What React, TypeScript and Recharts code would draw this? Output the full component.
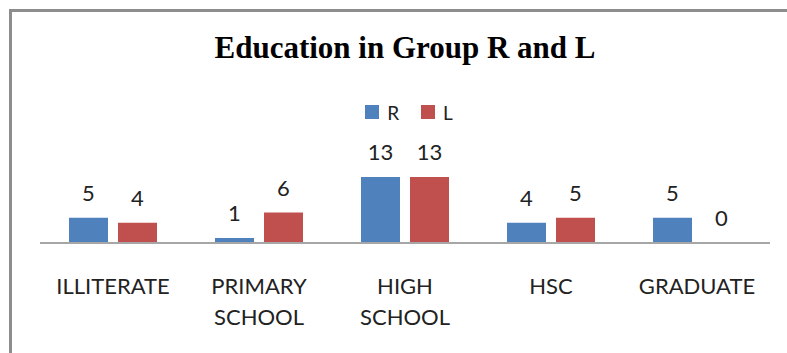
import React from "react";
import { BarChart, Bar, XAxis, YAxis, Legend, LabelList } from "recharts";

const categories = ["ILLITERATE", "PRIMARY\nSCHOOL", "HIGH\nSCHOOL", "HSC", "GRADUATE"];
const seriesR = [5, 1, 13, 4, 5];
const seriesL = [4, 6, 13, 5, 0];
const seriesNames = ["R", "L"];
const seriesColors = ["#4f81bd", "#c0504d"];

const data = categories.map((c, i) => ({ name: c, R: seriesR[i], L: seriesL[i] }));

const FONT = "Lato, 'Open Sans', sans-serif";

const Tick = (props: any) => {
  const { x, y, payload } = props;
  const lines = String(payload.value).split("\n");
  return (
    <text x={x} y={y + 43} textAnchor="middle" fontFamily={FONT} fontSize={22} fill="#222">
      {lines.map((l: string, i: number) => (
        <tspan key={i} x={x} dy={i === 0 ? 0 : 31}>
          {l}
        </tspan>
      ))}
    </text>
  );
};

const LegendContent = () => (
  <div style={{ display: "flex", justifyContent: "center", alignItems: "center", fontFamily: FONT, fontSize: 19, color: "#222", height: 24, paddingLeft: 8 }}>
    {seriesNames.map((n, i) => (
      <span key={n} style={{ display: "inline-flex", alignItems: "center", marginRight: i === 0 ? 22 : 0 }}>
        <span style={{ display: "inline-block", width: 14, height: 14, background: seriesColors[i], marginRight: 8 }} />
        {n}
      </span>
    ))}
  </div>
);

export default function App() {
  return (
    <div style={{ position: "fixed", left: 0, top: 0, width: 787, height: 353, background: "#fff", overflow: "hidden" }}>
      <div
        style={{
          position: "absolute",
          left: 9,
          top: 9,
          right: -10,
          bottom: -10,
          borderLeft: "3px solid #8d8d8d",
          borderTop: "3px solid #8d8d8d",
        }}
      />
      <div
        style={{
          position: "absolute",
          left: 40,
          width: 730,
          top: 30,
          textAlign: "center",
          fontFamily: "'Liberation Serif', 'Times New Roman', serif",
          fontWeight: "bold",
          fontSize: 31,
          lineHeight: "36px",
          color: "#000",
        }}
      >
        Education in Group R and L
      </div>
      <BarChart
        width={787}
        height={353}
        data={data}
        margin={{ top: 148, right: 17, bottom: 50, left: 40 }}
        barSize={39}
        barGap={10}
        style={{ position: "absolute", left: 0, top: 0 }}
      >
        <YAxis hide domain={[0, 14]} />
        <XAxis
          dataKey="name"
          axisLine={{ stroke: "#a6a6a6", strokeWidth: 2 }}
          tickLine={false}
          tick={<Tick />}
          interval={0}
          height={60}
        />
        <Legend verticalAlign="top" content={<LegendContent />} wrapperStyle={{ top: 100 }} />
        <Bar dataKey="R" fill={seriesColors[0]} isAnimationActive={false} minPointSize={0.01}>
          <LabelList dataKey="R" position="top" offset={17} fontFamily={FONT} fontSize={22} fill="#222" />
        </Bar>
        <Bar dataKey="L" fill={seriesColors[1]} isAnimationActive={false} minPointSize={0.01}>
          <LabelList dataKey="L" position="top" offset={17} fontFamily={FONT} fontSize={22} fill="#222" />
        </Bar>
      </BarChart>
    </div>
  );
}
